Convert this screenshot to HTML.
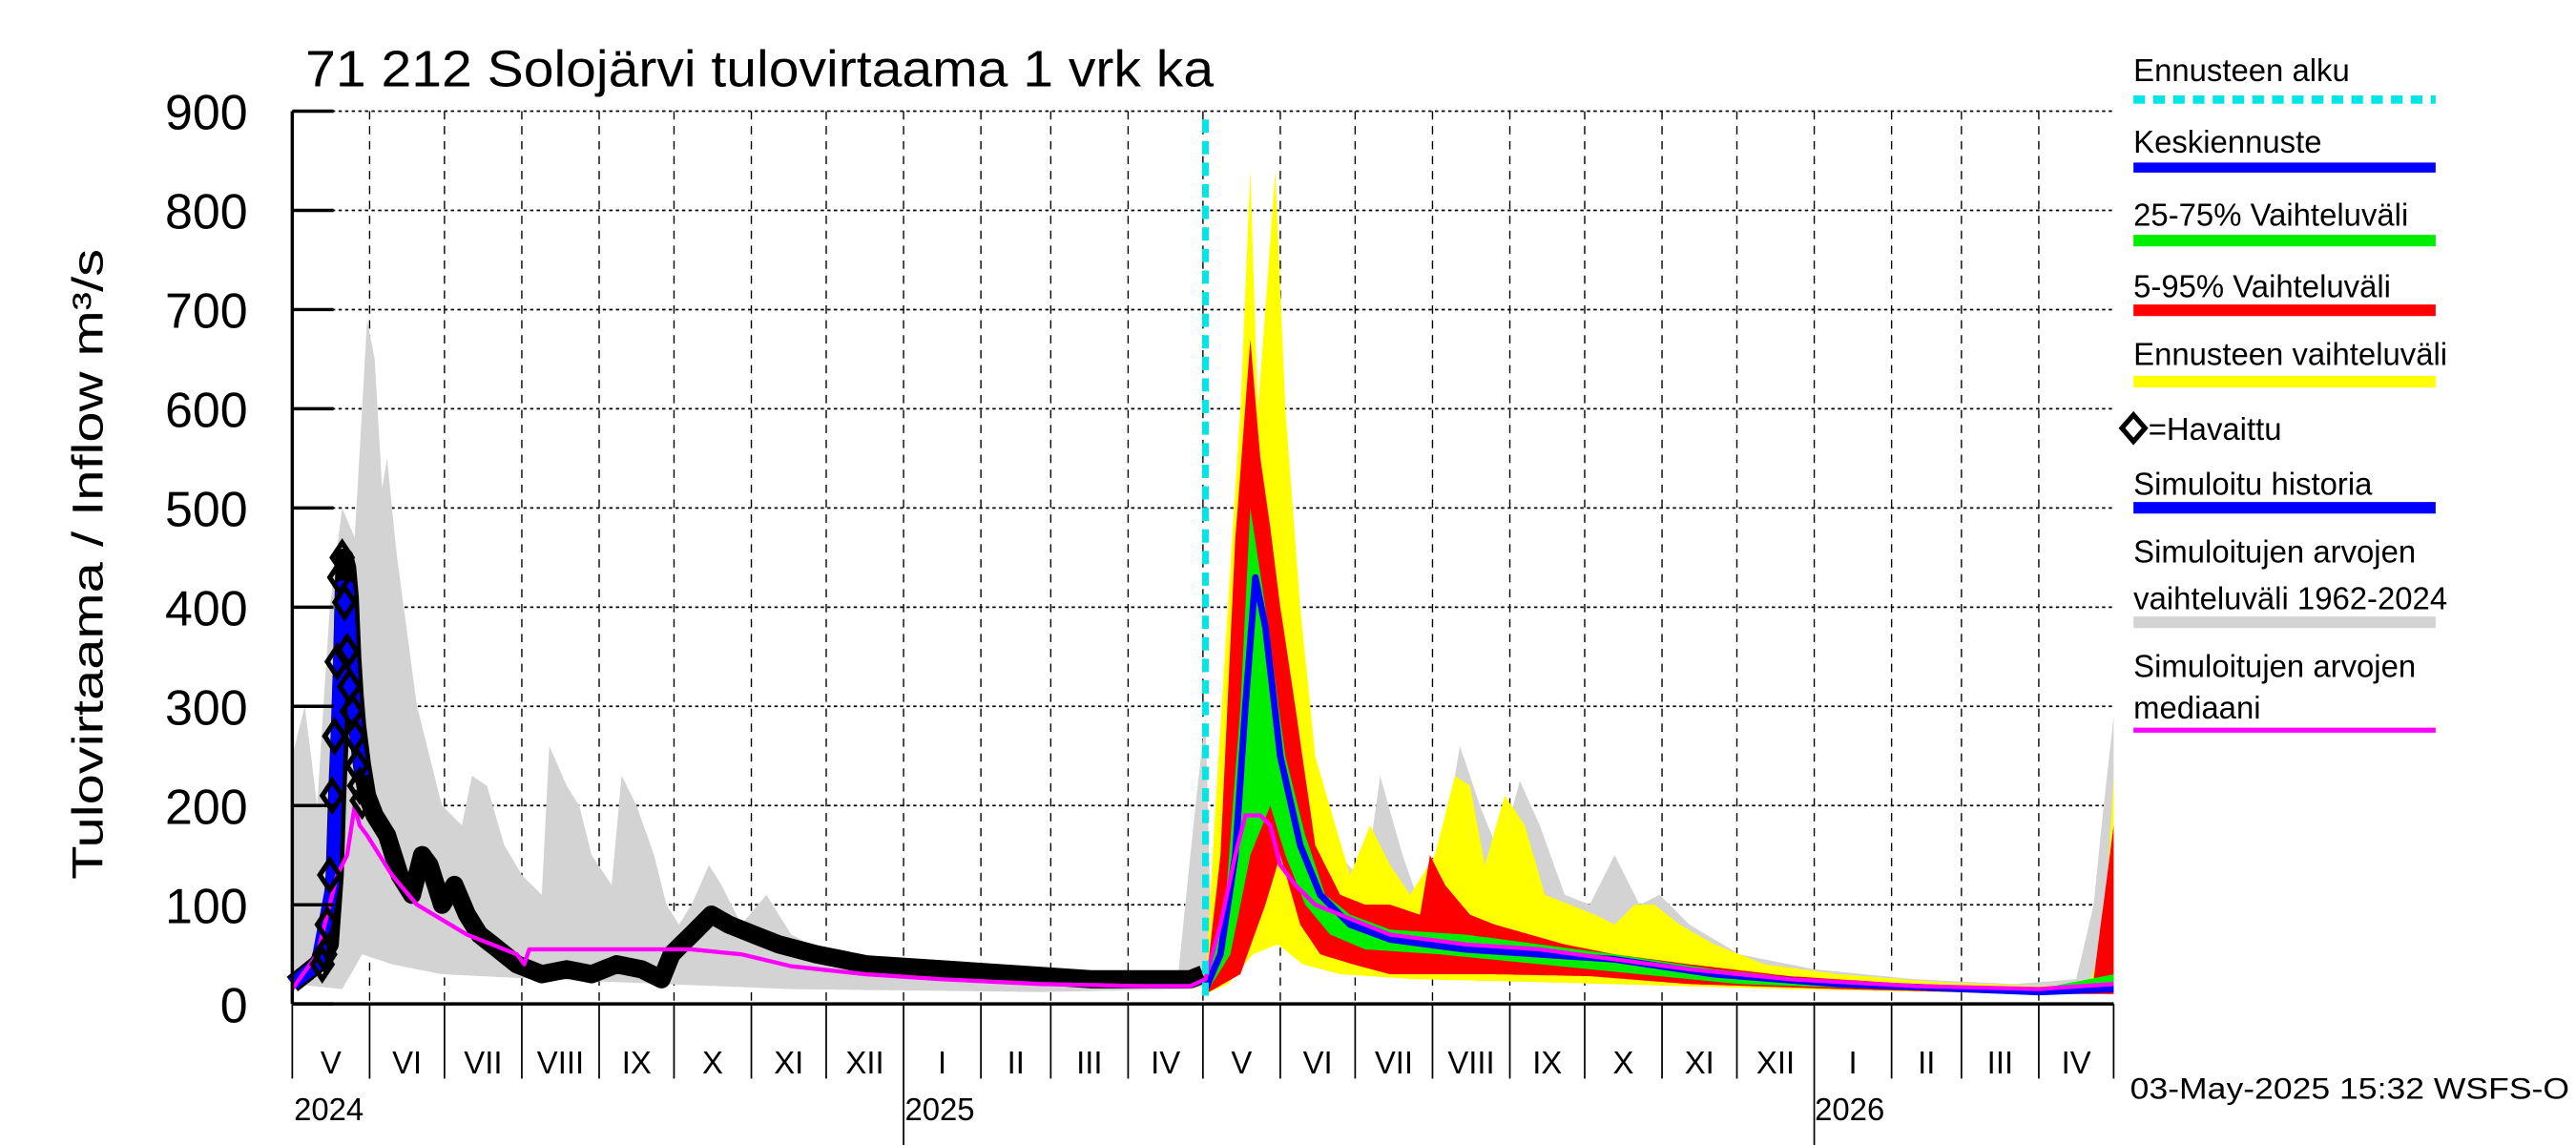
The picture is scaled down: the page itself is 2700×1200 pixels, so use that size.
<!DOCTYPE html>
<html><head><meta charset="utf-8"><style>
html,body{margin:0;padding:0;background:#fff;}
svg{display:block;}
text{font-family:"Liberation Sans",sans-serif;}
</style></head><body>
<svg id="chart" width="2700" height="1200" viewBox="0 0 1560 690" preserveAspectRatio="none" xmlns="http://www.w3.org/2000/svg">
<rect x="0" y="0" width="1560" height="690" fill="#fff"/>
<g id="grid"></g>
<g id="series"></g>
<g id="axes"></g>
<text x="185" y="52" font-size="31" textLength="550" lengthAdjust="spacingAndGlyphs">71 212 Solojärvi tulovirtaama 1 vrk ka</text>
<text transform="translate(62,340) rotate(-90)" text-anchor="middle" font-size="26" textLength="380" lengthAdjust="spacingAndGlyphs">Tulovirtaama / Inflow    m³/s</text>
<g id="legend" font-size="19">
 <g><text x="1292" y="49">Ennusteen alku</text><line x1="1292" y1="60" x2="1475" y2="60" stroke="#00e5e5" stroke-width="5" stroke-dasharray="7,5"/></g>
 <g><text x="1292" y="92">Keskiennuste</text><line x1="1292" y1="101" x2="1475" y2="101" stroke="#0000ff" stroke-width="6"/></g>
 <g><text x="1292" y="136">25-75% Vaihteluväli</text><line x1="1292" y1="145" x2="1475" y2="145" stroke="#00ee00" stroke-width="7"/></g>
 <g><text x="1292" y="179">5-95% Vaihteluväli</text><line x1="1292" y1="187" x2="1475" y2="187" stroke="#ff0000" stroke-width="7"/></g>
 <g><text x="1292" y="220">Ennusteen vaihteluväli</text><line x1="1292" y1="230" x2="1475" y2="230" stroke="#ffff00" stroke-width="7"/></g>
 <g><path d="M1292,250 L1299,258 L1292,266 L1285,258 Z" fill="none" stroke="#000" stroke-width="3" transform="translate(0,0)"/><text x="1301" y="265">=Havaittu</text></g>
 <g><text x="1292" y="298">Simuloitu historia</text><line x1="1292" y1="306" x2="1475" y2="306" stroke="#0000ff" stroke-width="7"/></g>
 <g><text x="1292" y="339">Simuloitujen arvojen</text><text x="1292" y="367">vaihteluväli 1962-2024</text><line x1="1292" y1="375" x2="1475" y2="375" stroke="#d3d3d3" stroke-width="7"/></g>
 <g><text x="1292" y="408">Simuloitujen arvojen</text><text x="1292" y="433">mediaani</text><line x1="1292" y1="440" x2="1475" y2="440" stroke="#ff00ff" stroke-width="3"/></g>
</g>
<text x="1290" y="662" font-size="18" textLength="266" lengthAdjust="spacingAndGlyphs">03-May-2025 15:32 WSFS-O</text>
</svg>
<script>
// ---- data (day index from 2024-05-01) ----
const histDays = [0,5,10,15,20,25,28,30,33,36,38,42,50,60,68,72,78,85,92,100,103,110,115,120,128,132,138,145,150,155,160,167,172,180,190,200,215,240,270,300,330,355,362,366,368,372,378,382,386,392,398,405,412,420,430,436,445,452,462,468,476,484,492,500,510,520,530,540,548,560,580,610,650,690,715,722,726,730];
const histMax = [250,300,200,400,500,470,600,690,650,520,550,450,300,200,180,230,220,160,130,110,260,220,200,150,120,230,200,150,100,80,100,140,120,80,110,70,50,40,35,30,28,28,200,290,100,160,400,480,500,580,400,300,200,150,120,230,150,100,170,260,200,150,225,180,110,100,150,100,110,80,50,35,25,20,25,100,200,290];
const histMinDays = [0,20,28,40,60,100,150,200,300,360,370,380,390,400,420,450,500,600,700,730];
const histMin = [20,15,50,40,30,25,20,15,12,15,20,60,90,50,40,30,25,15,10,15];

const obsDays = [0,5,10,15,17,18,19,20,21,22,23,24,25,26,27,28,30,33,38,43,48,52,55,60,65,70,75,80,90,100,110,120,130,140,148,152,156,160,168,175,185,195,210,230,260,290,320,350,360,365];
const obsVals = [20,30,40,60,130,210,270,345,450,440,410,350,310,280,260,240,210,190,170,130,110,150,140,100,120,90,70,60,40,30,35,30,40,35,25,50,60,70,90,80,70,60,50,40,35,30,25,25,25,30];
const diamondDays = [12,13,14,15,16,17,18,19,20,21,22,23,24,25,26,27,28];
const diamondVals = [40,50,80,130,210,270,345,430,450,405,355,320,295,270,240,220,205];

const simDays = [0,10,16,18,20,22,24,26,28];
const simVals = [20,40,120,260,420,420,320,260,230];

const medDays = [0,10,18,22,25,27,30,40,50,60,70,80,90,93,95,120,140,160,180,200,230,260,300,340,360,366,372,378,382,388,392,396,402,410,420,440,470,500,530,560,600,650,700,730];
const medVals = [15,50,130,150,200,180,170,130,100,85,70,60,50,40,55,55,55,55,50,38,30,25,20,18,18,25,80,150,190,190,180,140,120,100,90,70,60,55,45,35,25,18,15,20];

const yelUpDays = [366,370,375,380,384,387,390,394,398,404,410,418,424,432,440,448,458,466,472,478,486,494,502,512,522,530,538,546,556,570,590,620,660,700,720,726,730];
const yelUp = [20,200,400,600,840,600,700,840,600,400,250,180,130,180,140,110,150,230,220,140,210,180,110,100,90,80,100,100,80,60,40,30,22,18,20,60,230];
const yelLoDays = [366,375,385,395,405,420,450,500,600,700,730];
const yelLo = [10,20,50,60,40,30,25,22,15,10,12];
const redUpDays = [366,372,378,384,388,392,396,402,410,420,430,440,452,456,462,472,482,496,510,530,560,600,650,700,722,730];
const redUp = [15,150,470,670,550,480,400,300,160,110,100,100,90,150,120,90,80,70,60,50,40,28,20,15,25,180];
const redLoDays = [366,380,390,396,404,412,425,440,480,520,560,620,700,730];
const redLo = [10,30,100,150,80,50,40,30,30,28,20,15,10,10];
const grnUpDays = [366,374,380,384,390,398,406,414,424,440,470,500,530,570,620,700,730];
const grnUp = [12,100,300,500,400,250,170,110,90,75,70,60,50,35,22,15,30];
const grnLoDays = [366,376,384,392,398,406,416,430,460,500,540,580,650,700,730];
const grnLo = [10,50,150,200,150,100,70,55,50,40,30,20,14,12,12];
const meanDays = [366,372,378,382,386,390,396,404,412,424,440,470,500,530,570,620,700,730];
const meanVals = [15,50,150,300,430,380,250,160,110,80,65,55,50,45,30,20,12,15];

const yTicks = [0,100,200,300,400,500,600,700,800,900];
const monthLabels = ["V","VI","VII","VIII","IX","X","XI","XII","I","II","III","IV","V","VI","VII","VIII","IX","X","XI","XII","I","II","III","IV"];
const yearLabels = ["2024","2025","2026"];
const forecastStartDay = 366;

// ---- axes ----
const X0=177, X1=1280, Y0=605, Y1=67, NDAYS=730;
const xs = d => X0 + d*(X1-X0)/NDAYS;
const ys = v => Y0 - v*(Y0-Y1)/900;
const NS="http://www.w3.org/2000/svg";
function mk(tag, attrs, parent){const e=document.createElementNS(NS,tag);for(const k in attrs)e.setAttribute(k,attrs[k]);parent.appendChild(e);return e;}
const grid=document.getElementById('grid'), ser=document.getElementById('series'), ax=document.getElementById('axes');

function interp(days, vals, d){
  if(d<=days[0])return vals[0];
  for(let i=1;i<days.length;i++){if(d<=days[i]){const t=(d-days[i-1])/(days[i]-days[i-1]);return vals[i-1]+t*(vals[i]-vals[i-1]);}}
  return vals[vals.length-1];
}
function band(upD,up,loD,lo,fill,name){
  const s=Math.min(upD[0],loD[0]), e=Math.max(upD[upD.length-1],loD[loD.length-1]);
  let pts=[];
  for(let d=s;d<=e;d+=1)pts.push(xs(d).toFixed(1)+","+ys(interp(upD,up,d)).toFixed(1));
  for(let d=e;d>=s;d-=1)pts.push(xs(d).toFixed(1)+","+ys(interp(loD,lo,d)).toFixed(1));
  const p=mk('polygon',{points:pts.join(' '),fill:fill},ser);
  
  
}
function line(days,vals,color,w,name){
  const pts=days.map((d,i)=>xs(d).toFixed(1)+","+ys(vals[i]).toFixed(1)).join(' ');
  const p=mk('polyline',{points:pts,fill:'none',stroke:color,'stroke-width':w,'stroke-linejoin':'round'},ser);
  
  
}

const start=new Date(Date.UTC(2024,4,1));
const monthDays=[];
for(let m=0;m<=24;m++){const dt=new Date(Date.UTC(2024,4+m,1));monthDays.push(Math.round((dt-start)/86400000));}

yTicks.forEach(v=>{ if(v>0){const l=mk('line',{x1:X0,x2:X1,y1:ys(v),y2:ys(v),stroke:'#000','stroke-width':1,'stroke-dasharray':'2,2'},grid);
 
 }});
monthDays.slice(1,24).forEach(d=>{const l=mk('line',{x1:xs(d),x2:xs(d),y1:Y1,y2:Y0,stroke:'#000','stroke-width':0.8,'stroke-dasharray':'5,4'},grid);
 
 });

band(histDays,histMax,histMinDays,histMin,'#d3d3d3','historical-range-band');
band(yelUpDays,yelUp,yelLoDays,yelLo,'#ffff00','forecast-range-band');
band(redUpDays,redUp,redLoDays,redLo,'#ff0000','band-5-95');
band(grnUpDays,grnUp,grnLoDays,grnLo,'#00ee00','band-25-75');
line(obsDays,obsVals,'#000',11,'observed-band');
line(simDays,simVals,'#0000ff',8,'simulated-history-line');
line(meanDays,meanVals,'#0000ff',4,'mean-forecast-line');
line(medDays,medVals,'#ff00ff',2.5,'median-line');
diamondDays.forEach((d,i)=>{const x=xs(d),y=ys(diamondVals[i]);
 const p=mk('path',{d:`M${x},${y-9} L${x+6},${y} L${x},${y+9} L${x-6},${y} Z`,fill:'none',stroke:'#000','stroke-width':3},ser);
 
 });
const fl=mk('line',{x1:xs(forecastStartDay),x2:xs(forecastStartDay),y1:Y1+5,y2:Y0,stroke:'#00e5e5','stroke-width':4,'stroke-dasharray':'8,5'},ser);



mk('line',{x1:X0,x2:X0,y1:Y1,y2:Y0,stroke:'#000','stroke-width':2},ax);
mk('line',{x1:X0,x2:X1,y1:Y0,y2:Y0,stroke:'#000','stroke-width':2},ax);
yTicks.forEach(v=>{
 mk('line',{x1:X0,x2:X0+25,y1:ys(v),y2:ys(v),stroke:'#000','stroke-width':2},ax);
 const t=mk('text',{x:150,y:ys(v)+11,'text-anchor':'end','font-size':30},ax);
 t.textContent=v;
 
 
});
monthDays.forEach((d,i)=>{
 const isYear=(i===8||i===20);
 mk('line',{x1:xs(d),x2:xs(d),y1:Y0,y2:isYear?690:650,stroke:'#000','stroke-width':1},ax);
 if(i<24){const t=mk('text',{x:(xs(d)+xs(monthDays[i+1]))/2,y:647,'text-anchor':'middle','font-size':19},ax);
  t.textContent=monthLabels[i];
  
  }
});
[[0,178],[1,548],[2,1099]].forEach(([i,x])=>{
 const t=mk('text',{x:x,y:675,'font-size':19},ax);
 t.textContent=yearLabels[i];
 
 
});
</script>
</body></html>
